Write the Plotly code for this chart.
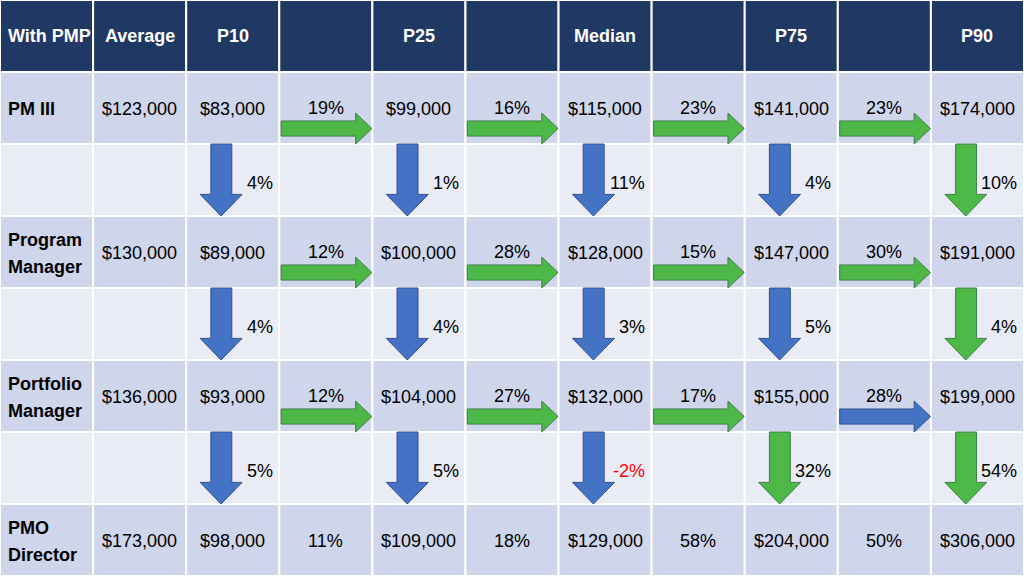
import plotly.graph_objects as go

# table content
headers = ["With PMP", "Average", "P10", "", "P25", "", "Median", "", "P75", "", "P90"]
roles = [["PM III"], ["Program", "Manager"], ["Portfolio", "Manager"], ["PMO", "Director"]]
average = [123000, 130000, 136000, 173000]
p10 = [83000, 89000, 93000, 98000]
p25 = [99000, 100000, 104000, 109000]
median = [115000, 128000, 132000, 129000]
p75 = [141000, 147000, 155000, 204000]
p90 = [174000, 191000, 199000, 306000]

# growth between neighbouring percentiles, per role (P10->P25, P25->Med, Med->P75, P75->P90)
step_pct = [
    [19, 16, 23, 23],
    [12, 28, 15, 30],
    [12, 27, 17, 28],
    [11, 18, 58, 50],
]
step_color = [
    ["green", "green", "green", "green"],
    ["green", "green", "green", "green"],
    ["green", "green", "green", "blue"],
    [None, None, None, None],  # last row: text only
]

# growth from one role to the next (P10, P25, Median, P75, P90)
role_pct = [
    [4, 1, 11, 4, 10],
    [4, 4, 3, 5, 4],
    [5, 5, -2, 32, 54],
]
role_color = [
    ["blue", "blue", "blue", "blue", "green"],
    ["blue", "blue", "blue", "blue", "green"],
    ["blue", "blue", "blue", "green", "green"],
]

HEADER_BG = "#203864"
ROW_BG = "#CFD5EA"
GAP_BG = "#E9EBF5"
FILL = {"green": "#4DB848", "blue": "#4472C4"}
EDGE = {"green": "#3F7F4A", "blue": "#2F528F"}
FONT = "Liberation Sans, Arial, sans-serif"
FS = 18

fig = go.Figure()
shapes = []
ann = []

n_cols = len(headers)
n_rows = 1 + 2 * len(roles) - 1

# cell backgrounds
for r in range(n_rows):
    bg = HEADER_BG if r == 0 else (ROW_BG if r % 2 == 1 else GAP_BG)
    for c in range(n_cols):
        shapes.append(dict(type="rect", xref="x", yref="y", x0=c, x1=c + 1, y0=r, y1=r + 1,
                           fillcolor=bg, line=dict(color="white", width=2), layer="below"))

# header
for c, h in enumerate(headers):
    if not h:
        continue
    left = c == 0
    ann.append(dict(x=c + (0.06 if left else 0.5), y=0.5, text="<b>%s</b>" % h,
                    xanchor="left" if left else "center",
                    font=dict(color="white", size=FS)))

pct_cols = [p10, p25, median, p75, p90]
value_x = [2, 4, 6, 8, 10]


def money(v):
    return "${:,}".format(v)


def add_arrow(xs, ys, color):
    fig.add_trace(go.Scatter(x=xs, y=ys, mode="lines", fill="toself",
                             fillcolor=FILL[color], line=dict(color=EDGE[color], width=1),
                             hoverinfo="skip", showlegend=False))


for i, role in enumerate(roles):
    r = 1 + 2 * i
    line_y = [0.52] if len(role) == 1 else [0.34, 0.71]
    for name, ly in zip(role, line_y):
        ann.append(dict(x=0.06, y=r + ly, text="<b>%s</b>" % name, xanchor="left",
                        font=dict(size=FS, color="black")))
    ann.append(dict(x=1.5, y=r + 0.52, text=money(average[i]), font=dict(size=FS, color="black")))
    for k, col in enumerate(pct_cols):
        ann.append(dict(x=value_x[k] + 0.5, y=r + 0.52, text=money(col[i]),
                        font=dict(size=FS, color="black")))
    # horizontal steps
    for k in range(4):
        c = value_x[k] + 1
        colr = step_color[i][k]
        if colr is None:
            ann.append(dict(x=c + 0.5, y=r + 0.52, text="%d%%" % step_pct[i][k],
                            font=dict(size=FS, color="black")))
            continue
        ann.append(dict(x=c + 0.5, y=r + 0.5, text="%d%%" % step_pct[i][k],
                        font=dict(size=FS, color="black")))
        x0, xh, xt = c + 0.02, c + 0.82, c + 0.995
        b0, b1, h0, h1, ym = r + 0.68, r + 0.89, r + 0.57, r + 1.0, r + 0.785
        add_arrow([x0, xh, xh, xt, xh, xh, x0, x0], [b0, b0, h0, ym, h1, b1, b1, b0], colr)
    # vertical steps
    if i < len(role_pct):
        g = r + 1
        for k in range(5):
            c = value_x[k]
            colr = role_color[i][k]
            x0, x1, hx0, hx1, xm = c + 0.265, c + 0.49, c + 0.15, c + 0.60, c + 0.375
            y0, yh, yt = g + 0.0, g + 0.70, g + 1.0
            add_arrow([x0, x1, x1, hx1, xm, hx0, x0, x0], [y0, y0, yh, yh, yt, yh, yh, y0], colr)
            v = role_pct[i][k]
            ann.append(dict(x=c + 0.95, y=g + 0.54, text="%d%%" % v, xanchor="right",
                            font=dict(size=FS, color="#FF0000" if v < 0 else "black")))

for a in ann:
    a.setdefault("xref", "x")
    a.setdefault("yref", "y")
    a.setdefault("showarrow", False)
    a.setdefault("yanchor", "middle")

fig.update_layout(
    width=1024, height=576,
    margin=dict(l=0, r=0, t=0, b=0),
    paper_bgcolor="white", plot_bgcolor="white",
    font=dict(family=FONT, size=FS, color="black"),
    xaxis=dict(range=[0, n_cols], visible=False, fixedrange=True),
    yaxis=dict(range=[n_rows, 0], visible=False, fixedrange=True),
    shapes=shapes, annotations=ann,
)

# the page body has a default 8px margin; drop it so the table sits at 0,0
fig.write_html("out.html", config={"displayModeBar": False},
               post_script="document.body.style.margin='0';")
